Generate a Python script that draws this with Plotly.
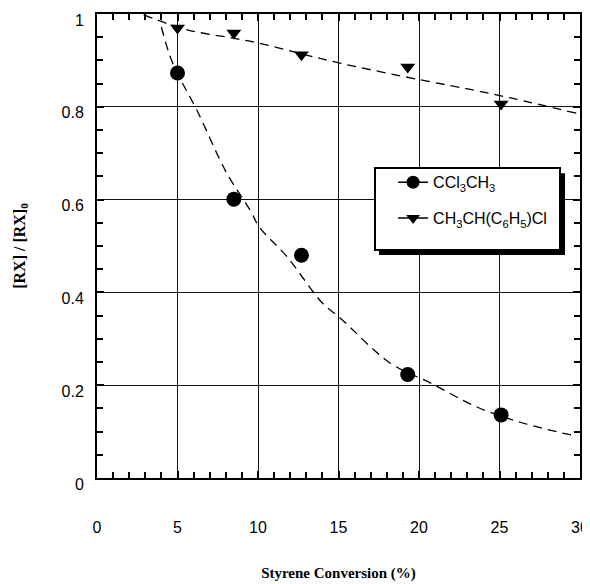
import plotly.graph_objects as go

# Data points
conv_ccl3 = [5.0, 8.5, 12.7, 19.3, 25.1]
rx_ccl3 = [0.873, 0.601, 0.480, 0.223, 0.136]
conv_phe = [5.0, 8.5, 12.7, 19.3, 25.1]
rx_phe = [0.970, 0.959, 0.912, 0.886, 0.806]

# Dashed fit curves
fit_ccl3_x = [4.0, 4.7, 6.2, 8.06, 9.5, 10.1, 11.8, 14.0, 15.1, 18.2, 20.7, 23.6, 26.5, 29.8]
fit_ccl3_y = [0.972, 0.894, 0.793, 0.657, 0.578, 0.54, 0.477, 0.377, 0.345, 0.248, 0.205, 0.153, 0.118, 0.09]
fit_phe_x = [2.9, 5.6, 8.45, 10.1, 12.6, 15.1, 20.1, 23.4, 25.7, 29.8]
fit_phe_y = [0.998, 0.966, 0.948, 0.937, 0.915, 0.894, 0.858, 0.836, 0.819, 0.786]

name_ccl3 = "CCl<sub>3</sub>CH<sub>3</sub>"
name_phe = "CH<sub>3</sub>CH(C<sub>6</sub>H<sub>5</sub>)Cl"

fig = go.Figure()
dash = "9px,6px"
fig.add_trace(go.Scatter(x=fit_ccl3_x, y=fit_ccl3_y, mode="lines", line=dict(color="black", width=1.3, dash=dash),
                         line_shape="spline", showlegend=False, hoverinfo="skip"))
fig.add_trace(go.Scatter(x=fit_phe_x, y=fit_phe_y, mode="lines", line=dict(color="black", width=1.3, dash=dash),
                         line_shape="spline", showlegend=False, hoverinfo="skip"))
fig.add_trace(go.Scatter(x=conv_ccl3, y=rx_ccl3, mode="markers", marker=dict(symbol="circle", size=15, color="black"),
                         showlegend=False))
fig.add_trace(go.Scatter(x=conv_phe, y=rx_phe, mode="markers", marker=dict(symbol="triangle-down", size=13, color="black"),
                         showlegend=False))
# legend entries
fig.add_trace(go.Scatter(x=[None], y=[None], mode="lines+markers", name=name_ccl3, legendgroup="a",
                         marker=dict(symbol="circle", size=13, color="black"), line=dict(color="black", width=1.5)))
fig.add_trace(go.Scatter(x=[None], y=[None], mode="lines+markers", name=name_phe, legendgroup="b",
                         marker=dict(symbol="triangle-down", size=12, color="black"), line=dict(color="black", width=1.5)))

axis_common = dict(showline=True, linecolor="black", linewidth=2, mirror="allticks",
                   ticks="inside", ticklen=7, tickcolor="black", tickwidth=1.5,
                   showgrid=True, gridcolor="#111", gridwidth=1, zeroline=False,
                   ticklabeloverflow="allow", automargin=False,
                   tickfont=dict(family="Liberation Sans, Arial", size=16, color="black"))

fig.update_xaxes(range=[0, 30], tickvals=[0, 5, 10, 15, 20, 25, 30], ticklabelstandoff=34,
                 minor=dict(dtick=1, ticks="inside", ticklen=6, tickcolor="black", showgrid=False),
                 title=dict(text="<b>Styrene Conversion (%)</b>",
                            font=dict(family="Liberation Serif, Times New Roman", size=15, color="black"),
                            standoff=32),
                 **axis_common)
fig.update_yaxes(range=[0, 1], tickvals=[0, 0.2, 0.4, 0.6, 0.8, 1], ticktext=["0", "0.2", "0.4", "0.6", "0.8", "1"],
                 ticklabelstandoff=8, ticklabelshift=6,
                 minor=dict(dtick=0.05, ticks="inside", ticklen=6, tickcolor="black", showgrid=False),
                 title=dict(text="<b>[RX] / [RX]<sub>0</sub></b>",
                            font=dict(family="Liberation Serif, Times New Roman", size=16, color="black"),
                            standoff=32),
                 **axis_common)

# legend box with drop shadow
fig.add_shape(type="rect", xref="paper", yref="paper", x0=0.584, x1=0.969, y0=0.4806, y1=0.657,
              fillcolor="black", line=dict(width=0), layer="above")
fig.add_shape(type="rect", xref="paper", yref="paper", x0=0.5756, x1=0.9586, y0=0.4914, y1=0.668,
              fillcolor="white", line=dict(color="black", width=2), layer="above")

fig.update_layout(
    width=582, height=576,
    margin=dict(l=89, r=10, t=6, b=106),
    plot_bgcolor="white", paper_bgcolor="white",
    legend=dict(x=0.613, y=0.674, xanchor="left", yanchor="top", bgcolor="rgba(0,0,0,0)", borderwidth=0,
                font=dict(family="Liberation Sans, Arial", size=16, color="black"), tracegroupgap=12,
                itemwidth=30),
)

fig.write_html("out.html")
